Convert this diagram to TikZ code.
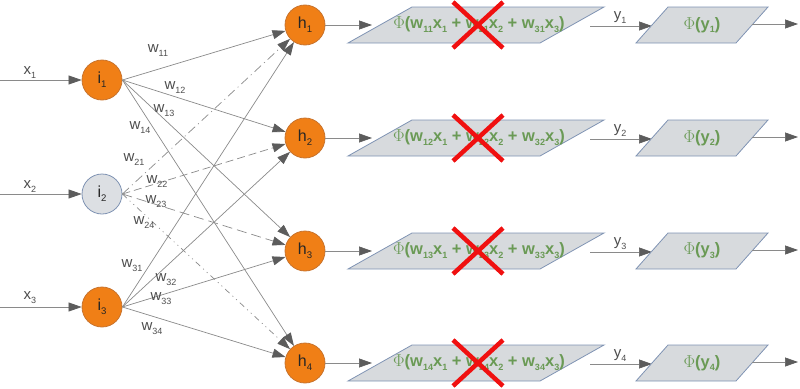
\documentclass[tikz,border=0pt]{standalone}
\usepackage{fontspec}
\setmainfont{Liberation Sans}
\usetikzlibrary{arrows.meta}
\definecolor{orng}{HTML}{F07F16}
\definecolor{orngb}{HTML}{C8742E}
\definecolor{lgray}{HTML}{DCDFE3}
\definecolor{bgray}{HTML}{7F93B3}
\definecolor{pfill}{HTML}{D7DADD}
\definecolor{grn}{HTML}{6A9A55}
\definecolor{lbl}{HTML}{4D4D4D}
\definecolor{edgec}{HTML}{8A8A8A}
\definecolor{tipc}{HTML}{5C5C5C}
\definecolor{xred}{HTML}{F01010}
\newcommand\sbs[1]{\raisebox{-0.5ex}{\scalebox{0.6}{#1}}}
\newcommand\fsb[1]{\raisebox{-0.45ex}{\scalebox{0.55}{#1}}}
\begin{document}
\begin{tikzpicture}[x=1pt,y=-1pt,
  neuron/.style={circle,minimum size=40pt,inner sep=0pt,fill=orng,draw=orngb,line width=0.8pt,font=\fontsize{16}{16}\selectfont,text=black!85},
  gneuron/.style={neuron,fill=lgray,draw=bgray},
  wlab/.style={font=\fontsize{15}{15}\selectfont,text=lbl,inner sep=0pt},
  conn/.style={draw=edgec,line width=0.7pt,-{Triangle[length=13pt,width=9pt,color=tipc]}},
  para/.style={fill=pfill,draw=bgray,line width=0.8pt},
  ftxt/.style={font=\fontsize{16.5}{16.5}\selectfont\bfseries,text=grn,inner sep=0pt},
  cross/.style={draw=xred,line width=4.5pt}
]
\useasboundingbox (0,0) rectangle (800,388);

% input nodes
\node[neuron]  (i1) at (102,80)  {i\sbs{1}};
\node[gneuron] (i2) at (102,194) {i\sbs{2}};
\node[neuron]  (i3) at (102,307) {i\sbs{3}};

% hidden nodes
\node[neuron] (h1) at (305,25)  {h\sbs{1}};
\node[neuron] (h2) at (305,138) {h\sbs{2}};
\node[neuron] (h3) at (305,251) {h\sbs{3}};
\node[neuron] (h4) at (305,363) {h\sbs{4}};

% inputs
\coordinate (s1) at (0,80);
\coordinate (s2) at (0,194);
\coordinate (s3) at (0,307);
\draw[conn] (s1) -- (i1);
\draw[conn] (s2) -- (i2);
\draw[conn] (s3) -- (i3);
\node[wlab] (lx1) at (30,73)  {x\sbs{1}};
\node[wlab] (lx2) at (30,187) {x\sbs{2}};
\node[wlab] (lx3) at (30,298) {x\sbs{3}};

% weights from i1
\draw[conn] (i1.east) -- (h1);
\draw[conn] (i1.east) -- (h2);
\draw[conn] (i1.east) -- (h3);
\draw[conn] (i1.east) -- (h4);
% weights from i2 (dashed)
\draw[conn,dash pattern=on 9pt off 4pt on 1pt off 4pt] (i2.east) -- (h1);
\draw[conn,dash pattern=on 8pt off 4pt] (i2.east) -- (h2);
\draw[conn,dash pattern=on 10pt off 5pt] (i2.east) -- (h3);
\draw[conn,dash pattern=on 6pt off 4pt on 1pt off 4pt on 1pt off 4pt] (i2.east) -- (h4);
% weights from i3
\draw[conn] (i3.east) -- (h1);
\draw[conn] (i3.east) -- (h2);
\draw[conn] (i3.east) -- (h3);
\draw[conn] (i3.east) -- (h4);

% weight labels
\node[wlab] (w11) at (158,51)  {w\sbs{11}};
\node[wlab] (w12) at (175,88)  {w\sbs{12}};
\node[wlab] (w13) at (164,111) {w\sbs{13}};
\node[wlab] (w14) at (140,128) {w\sbs{14}};
\node[wlab] (w21) at (134,160) {w\sbs{21}};
\node[wlab] (w22) at (157,182) {w\sbs{22}};
\node[wlab] (w23) at (156,202) {w\sbs{23}};
\node[wlab] (w24) at (144,223) {w\sbs{24}};
\node[wlab] (w31) at (132,266) {w\sbs{31}};
\node[wlab] (w32) at (166,280) {w\sbs{32}};
\node[wlab] (w33) at (161,299) {w\sbs{33}};
\node[wlab] (w34) at (152,329) {w\sbs{34}};

% rows
\foreach \k/\y in {1/25,2/138,3/251,4/363}{
  \draw[para] (348,\y+18) -- (540,\y+18) -- (604,\y-18) -- (412,\y-18) -- cycle;
  \node[ftxt] (f\k) at (479,\y) {$\Phi$(w\fsb{1\k}x\fsb{1} + w\fsb{2\k}x\fsb{2} + w\fsb{3\k}x\fsb{3})};
  \draw[cross] (453,\y-23) -- (503,\y+23);
  \draw[cross] (503,\y-23) -- (453,\y+23);
  \coordinate (a\k) at (372,\y);
  \draw[conn] (h\k) -- (a\k);
  \coordinate (b\k) at (590,\y+1);
  \coordinate (c\k) at (652,\y+1);
  \draw[conn] (b\k) -- (c\k);
  \node[wlab] (y\k) at (620,\y-7) {y\sbs{\k}};
  \draw[para] (636,\y+18) -- (736,\y+18) -- (768,\y-18) -- (668,\y-18) -- cycle;
  \node[ftxt] (g\k) at (702,\y) {$\Phi$(y\fsb{\k})};
  \coordinate (d\k) at (752,\y-1);
  \coordinate (e\k) at (798,\y-1);
  \draw[conn] (d\k) -- (e\k);
}
\end{tikzpicture}
\end{document}
